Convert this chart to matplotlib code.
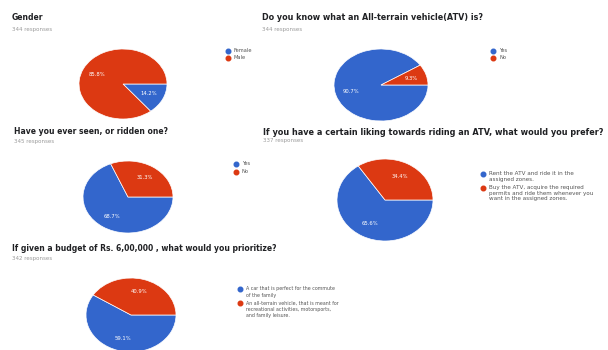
import matplotlib
matplotlib.use("Agg")
import matplotlib.pyplot as plt

W, H = 608, 350
BLUE = "#3366cc"
RED = "#dc3912"

# survey answers (percent)
gender_labels = ["Female", "Male"]
gender_vals = [14.2, 85.8]
know_labels = ["Yes", "No"]
know_vals = [90.7, 9.3]
seen_labels = ["Yes", "No"]
seen_vals = [68.7, 31.3]
prefer_labels = ["Rent the ATV and ride it in the\nassigned zones.",
                 "Buy the ATV, acquire the required\npermits and ride them whenever you\nwant in the assigned zones."]
prefer_vals = [65.6, 34.4]
budget_labels = ["A car that is perfect for the commute\nof the family",
                 "An all-terrain vehicle, that is meant for\nrecreational activities, motorsports,\nand family leisure."]
budget_vals = [59.1, 40.9]

titles = ["Gender",
          "Do you know what an All-terrain vehicle(ATV) is?",
          "Have you ever seen, or ridden one?",
          "If you have a certain liking towards riding an ATV, what would you prefer?",
          "If given a budget of Rs. 6,00,000 , what would you prioritize?"]
responses = ["344 responses", "344 responses", "345 responses", "337 responses", "342 responses"]

fig = plt.figure(figsize=(W / 100, H / 100), dpi=100)
fig.patch.set_facecolor("white")

# overlay in pixel coordinates for titles and legends
ov = fig.add_axes([0, 0, 1, 1], zorder=5)
ov.set_xlim(0, W)
ov.set_ylim(H, 0)
ov.axis("off")
ov.patch.set_alpha(0)


def fx(x):
    return x / W


def fy(y):
    return 1 - y / H


def panel(vals, labels, title, resp, tx, ty, ry_resp, cx, cy, rx, ry, cut,
          lx, ly, lfs=3.7, lsp=1.25, tfs=5.5):
    ov.text(tx, ty, title, fontsize=tfs, fontweight="bold",
            color="#202124", va="top", ha="left")
    ov.text(tx, ry_resp, resp, fontsize=4.0, color="#9a9a9a",
            va="top", ha="left")
    bottom = min(cy + ry, cut)
    ax = fig.add_axes([fx(cx - rx), fy(bottom), (2 * rx) / W, (bottom - (cy - ry)) / H])
    ax.pie(vals, colors=[BLUE, RED], startangle=0, counterclock=False,
           autopct="%1.1f%%", pctdistance=0.66,
           wedgeprops=dict(edgecolor="white", linewidth=0.5),
           textprops=dict(color="white", fontsize=3.8))
    ax.set_aspect("auto")
    ax.set_xlim(-1, 1)
    ax.set_ylim(-(bottom - cy) / ry, 1)
    ax.axis("off")
    # legend: dot + (possibly wrapped) label, dot aligned with first line
    for lab, col, yy in zip(labels, [BLUE, RED], ly):
        ov.plot(lx, yy, marker="o", color=col, markersize=3.3, linestyle="none")
        ov.text(lx + 6, yy - lfs * 0.75, lab, fontsize=lfs, color="#555555",
                va="top", ha="left", linespacing=lsp)


panel(gender_vals, gender_labels, titles[0], responses[0], 12, 13, 27,
      123, 84, 44, 35, 118, 228, [51, 58])
panel(know_vals, know_labels, titles[1], responses[1], 262, 13, 27,
      381, 85, 47, 36, 120, 493, [51, 58], tfs=5.75)
panel(seen_vals, seen_labels, titles[2], responses[2], 14, 127, 139,
      128, 197, 45, 36, 400, 236, [164, 172])
panel(prefer_vals, prefer_labels, titles[3], responses[3], 263, 128, 138,
      385, 200, 48, 41, 400, 483, [174, 188], lfs=4.1, lsp=1.15, tfs=5.85)
panel(budget_vals, budget_labels, titles[4], responses[4], 12, 244, 256,
      131, 315, 45, 37, 350, 240, [289, 303], lfs=3.4, lsp=1.3)

fig.savefig("out.png", dpi=100)
